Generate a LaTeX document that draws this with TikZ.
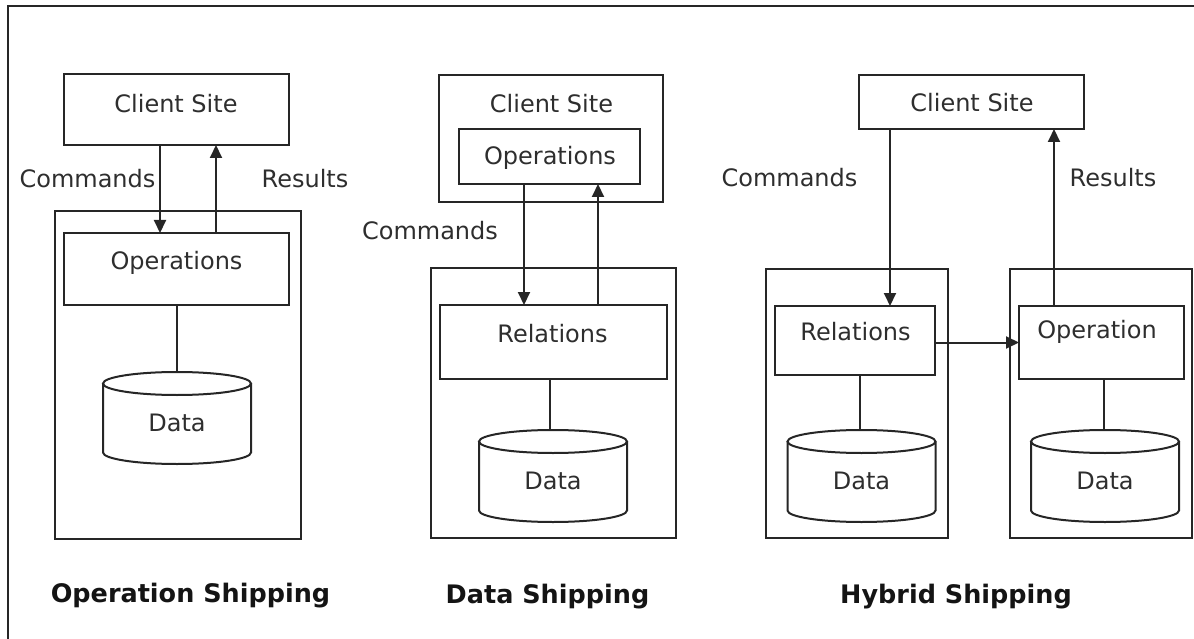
\documentclass[tikz,border=0pt]{standalone}
\usepackage{fontspec}
\setmainfont{DejaVu Sans}
\usetikzlibrary{arrows.meta}
\definecolor{ink}{HTML}{262626}
\definecolor{txt}{HTML}{2E2E2E}
\begin{document}
\begin{tikzpicture}[x=1pt,y=-1pt,
  line/.style={draw=ink, line width=2pt},
  box/.style={line, inner sep=0pt, outer sep=0pt},
  lbl/.style={inner sep=0pt, text=txt, font=\fontsize{24}{28}\selectfont,
              text height=17.5pt, text depth=0pt},
  ttl/.style={inner sep=0pt, text=black!92, font=\fontsize{25.5}{30}\selectfont\bfseries,
              text height=18.6pt, text depth=0pt},
  arr/.style={line, -{Triangle[length=13pt,width=12pt]}},
  pics/db/.style={code={
    \draw[line, fill=white] (-74,11.5) -- (-74,80.5)
        arc[start angle=180, end angle=0, x radius=74, y radius=11.5] -- (74,11.5);
    \draw[line] (0,11.5) ellipse[x radius=74, y radius=11.5];
    \node[lbl] (-txt) at (0,51) {Data};
    \coordinate (-top) at (0,0);
  }}]
\useasboundingbox (0,0) rectangle (1194,639);

% page frame (top and left edges only)
\coordinate (frameA) at (8,640);
\coordinate (frameB) at (8,6);
\coordinate (frameC) at (1195,6);
\draw[line] (frameA) -- (frameB) -- (frameC);

% ---------- Operation shipping ----------
\node[box, minimum width=225, minimum height=71] (cs1) at (176.5,109.5) {};
\node[lbl] (cs1t) at (176,104) {Client Site};
\node[box, minimum width=246, minimum height=328] (srv1) at (178,375) {};
\node[box, minimum width=225, minimum height=72] (ops1) at (176.5,269) {};
\node[lbl] (ops1t) at (176.5,261) {Operations};
\pic (db1) at (177,372) {db};
\draw[line] (db1-top |- ops1.south) -- (db1-top);
\draw[arr] ([xshift=-16.5pt]cs1.south) -- ([xshift=-16.5pt]ops1.north);
\draw[arr] ([xshift=39.5pt]ops1.north) -- ([xshift=39.5pt]cs1.south);
\node[lbl] (cmd1) at (87.5,178.5) {Commands};
\node[lbl] (res1) at (305,178.5) {Results};
\node[ttl] (title1) at (190.5,593) {Operation Shipping};

% ---------- Data shipping ----------
\node[box, minimum width=224, minimum height=127] (cs2) at (551,138.5) {};
\node[lbl] (cs2t) at (551.5,104) {Client Site};
\node[box, minimum width=181, minimum height=55] (ops2) at (549.5,156.5) {};
\node[lbl] (ops2t) at (550,156) {Operations};
\node[box, minimum width=245, minimum height=270] (srv2) at (553.5,403) {};
\node[box, minimum width=227, minimum height=74] (rel2) at (553.5,342) {};
\node[lbl] (rel2t) at (552.5,334) {Relations};
\pic (db2) at (553,430) {db};
\draw[line] ([xshift=-3pt]db2-top |- rel2.south) -- ([xshift=-3pt]db2-top);
\draw[arr] ([xshift=-25.5pt]ops2.south) -- ([xshift=-29.5pt]rel2.north);
\draw[arr] ([xshift=44.5pt]rel2.north) -- ([xshift=48.5pt]ops2.south);
\node[lbl] (cmd2) at (430,231) {Commands};
\node[ttl] (title2) at (547.5,594) {Data Shipping};

% ---------- Hybrid shipping ----------
\node[box, minimum width=225, minimum height=54] (cs3) at (971.5,102) {};
\node[lbl] (cs3t) at (972,103) {Client Site};
\node[box, minimum width=182, minimum height=269] (srv3a) at (857,403.5) {};
\node[box, minimum width=182, minimum height=269] (srv3b) at (1101,403.5) {};
\node[box, minimum width=160, minimum height=69] (rel3) at (855,340.5) {};
\node[lbl] (rel3t) at (855.5,332) {Relations};
\node[box, minimum width=165, minimum height=73] (op3) at (1101.5,342.5) {};
\node[lbl] (op3t) at (1097,330) {Operation};
\pic (db3a) at (861.5,430) {db};
\pic (db3b) at (1105,430) {db};
\draw[line] ([xshift=-1.5pt]db3a-top |- rel3.south) -- ([xshift=-1.5pt]db3a-top);
\draw[line] ([xshift=-1pt]db3b-top |- op3.south) -- ([xshift=-1pt]db3b-top);
\draw[arr] ([xshift=-81.5pt]cs3.south) -- ([xshift=35pt]rel3.north);
\draw[arr] ([xshift=-47.5pt]op3.north) -- ([xshift=82.5pt]cs3.south);
\draw[arr] (rel3.east |- op3.center) -- (op3.west);
\node[lbl] (cmd3) at (789.5,177.5) {Commands};
\node[lbl] (res3) at (1113,177.5) {Results};
\node[ttl] (title3) at (956,594) {Hybrid Shipping};
\end{tikzpicture}
\end{document}
